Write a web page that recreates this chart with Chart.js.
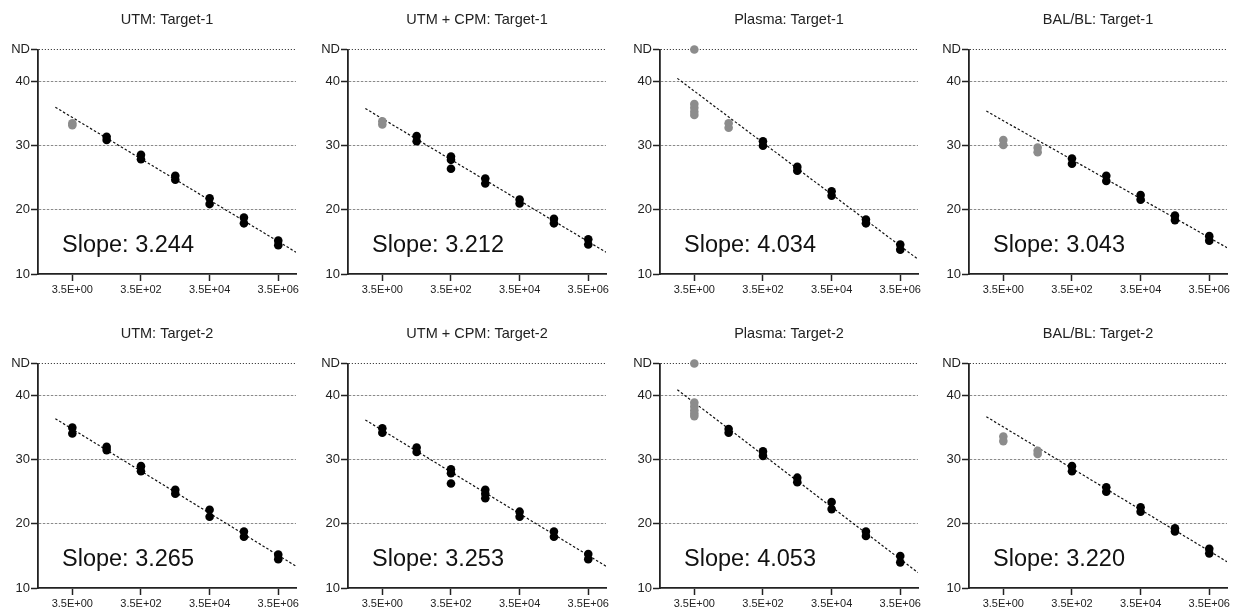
<!DOCTYPE html>
<html>
<head>
<meta charset="utf-8">
<script src="https://cdn.jsdelivr.net/npm/chart.js@4.4.0/dist/chart.umd.min.js"></script>
<style>
  body { margin: 0; background: #fff; }
  #wrap { position: relative; width: 1237px; height: 613px; background: #fff; }
  .panel { position: absolute; width: 306px; height: 300px; }
</style>
</head>
<body>
<div id="wrap"></div>
<script>
// dilution levels (copies) and axis ticks
const doses = [3.5, 35, 350, 3500, 35000, 350000, 3500000];
const xTickValues = [3.5, 350, 35000, 3500000];
const xTickLabels = ['3.5E+00', '3.5E+02', '3.5E+04', '3.5E+06'];
const yTickValues = [10, 20, 30, 40, 45];
const yTickLabels = ['10', '20', '30', '40', 'ND'];
const ND = 45;

const titles = ['UTM: Target-1', 'UTM + CPM: Target-1', 'Plasma: Target-1', 'BAL/BL: Target-1',
                'UTM: Target-2', 'UTM + CPM: Target-2', 'Plasma: Target-2', 'BAL/BL: Target-2'];
const slopes = ['3.244', '3.212', '4.034', '3.043', '3.265', '3.253', '4.053', '3.220'];

// Ct replicates per dilution level
const utmT1 = [[33.5, 33.2], [31.4, 30.9], [28.6, 27.9], [25.3, 24.7], [21.8, 20.9], [18.8, 17.9], [15.2, 14.5]];
const utmCpmT1 = [[33.8, 33.3], [31.5, 30.7], [28.3, 27.8, 26.4], [24.9, 24.1], [21.6, 21.0], [18.6, 17.9], [15.4, 14.6]];
const plasmaT1 = [[36.5, 35.9, 35.3, 34.8], [33.5, 32.8], [30.7, 30.0], [26.7, 26.1], [22.9, 22.2], [18.5, 17.9], [14.6, 13.8]];
const balT1 = [[30.9, 30.1], [29.7, 29.0], [28.0, 27.2], [25.3, 24.5], [22.3, 21.6], [19.1, 18.4], [15.9, 15.2]];
const utmT2 = [[35.0, 34.1], [32.0, 31.5], [29.0, 28.2], [25.3, 24.7], [22.2, 21.1], [18.8, 18.0], [15.2, 14.5]];
const utmCpmT2 = [[34.9, 34.2], [31.9, 31.2], [28.5, 27.9, 26.3], [25.3, 24.7, 24.0], [21.9, 21.1], [18.8, 18.0], [15.3, 14.5]];
const plasmaT2 = [[38.9, 38.3, 37.7, 37.2, 36.8], [34.8, 34.2], [31.3, 30.6], [27.2, 26.5], [23.4, 22.3], [18.8, 18.1], [15.0, 14.0]];
const balT2 = [[33.6, 32.9], [31.4, 30.9], [29.0, 28.2], [25.7, 25.0], [22.6, 21.9], [19.3, 18.8], [16.1, 15.4]];
const panelData = [utmT1, utmCpmT1, plasmaT1, balT1, utmT2, utmCpmT2, plasmaT2, balT2];

// how many of the lowest levels are excluded (grey), and ND replicates
const greyLevels = [1, 1, 2, 2, 0, 0, 1, 2];
const ndCounts = [0, 0, 1, 0, 0, 0, 1, 0];

// regression line ends
const fitX = [1.12, 1.15e7];
const fitStart = [36.0, 35.8, 40.5, 35.4, 36.4, 36.2, 40.9, 36.7];
const fitEnd = [13.4, 13.4, 12.3, 14.1, 13.4, 13.4, 12.4, 14.1];

const lefts = [0, 310, 622, 931];
const tops = [0, 314];
const FONT = "'Liberation Sans', Arial, sans-serif";

// panel title (centred over the plot) and slope note
const panelText = {
  id: 'panelText',
  afterDatasetsDraw(chart, args, opts) {
    const ctx = chart.ctx;
    const area = chart.chartArea;
    ctx.save();
    ctx.fillStyle = '#222';
    ctx.textBaseline = 'middle';
    ctx.textAlign = 'center';
    ctx.font = '14.5px ' + FONT;
    ctx.fillText(opts.title, (area.left + area.right) / 2, 20);
    ctx.fillStyle = '#111';
    ctx.textAlign = 'left';
    ctx.font = '23.5px ' + FONT;
    ctx.fillText(opts.slope, area.left + 24, chart.scales.y.getPixelForValue(14.5));
    ctx.restore();
  }
};

const wrap = document.getElementById('wrap');

panelData.forEach((levels, p) => {
  const div = document.createElement('div');
  div.className = 'panel';
  div.style.left = lefts[p % 4] + 'px';
  div.style.top = tops[Math.floor(p / 4)] + 'px';
  const canvas = document.createElement('canvas');
  div.appendChild(canvas);
  wrap.appendChild(div);

  const black = [];
  const grey = [];
  levels.forEach((reps, i) => {
    reps.forEach(v => {
      (i < greyLevels[p] ? grey : black).push({ x: doses[i], y: v });
    });
  });
  for (let k = 0; k < ndCounts[p]; k++) grey.push({ x: doses[0], y: ND });

  new Chart(canvas, {
    data: {
      datasets: [
        {
          type: 'line',
          data: [{ x: fitX[0], y: fitStart[p] }, { x: fitX[1], y: fitEnd[p] }],
          borderColor: '#111',
          borderWidth: 1.2,
          borderDash: [2.5, 2],
          pointRadius: 0,
          fill: false,
          order: 3
        },
        {
          type: 'scatter',
          data: grey,
          backgroundColor: '#8c8c8c',
          borderWidth: 0,
          pointRadius: 4.3,
          clip: false,
          order: 2
        },
        {
          type: 'scatter',
          data: black,
          backgroundColor: '#000',
          borderWidth: 0,
          pointRadius: 4.3,
          clip: false,
          order: 1
        }
      ]
    },
    options: {
      responsive: true,
      maintainAspectRatio: false,
      animation: false,
      layout: { padding: { left: 8, right: 10, top: 49.5, bottom: 0 } },
      plugins: {
        legend: { display: false },
        tooltip: { enabled: false },
        title: { display: false },
        panelText: { title: titles[p], slope: 'Slope: ' + slopes[p] }
      },
      scales: {
        x: {
          type: 'logarithmic',
          min: 0.35,
          max: 1.15e7,
          afterBuildTicks: s => { s.ticks = xTickValues.map(v => ({ value: v })); },
          afterFit: s => { s.height = 26; },
          ticks: {
            callback: (v, i) => xTickLabels[i],
            color: '#222',
            padding: 2,
            maxRotation: 0,
            autoSkip: false,
            font: { family: FONT, size: 11 }
          },
          grid: {
            drawOnChartArea: false,
            tickLength: 7,
            tickColor: '#222',
            tickWidth: 1.5
          },
          border: { color: '#222', width: 1.8 }
        },
        y: {
          min: 10,
          max: ND,
          afterBuildTicks: s => { s.ticks = yTickValues.map(v => ({ value: v })); },
          afterFit: s => { s.width = 30; },
          ticks: {
            callback: (v, i) => yTickLabels[i],
            color: '#222',
            padding: 1,
            autoSkip: false,
            font: { family: FONT, size: 13 }
          },
          grid: {
            color: c => c.tick.value === 10 ? 'rgba(0,0,0,0)' : (c.tick.value === ND ? '#444' : '#8a8a8a'),
            lineWidth: 1,
            tickLength: 7,
            tickColor: '#222',
            tickWidth: 1.5,
            tickBorderDash: []
          },
          border: {
            color: '#222',
            width: 1.8,
            dash: c => (c.tick && c.tick.value === ND) ? [1.2, 1.8] : [2.5, 1.5]
          }
        }
      }
    },
    plugins: [panelText]
  });
});
</script>
</body>
</html>
